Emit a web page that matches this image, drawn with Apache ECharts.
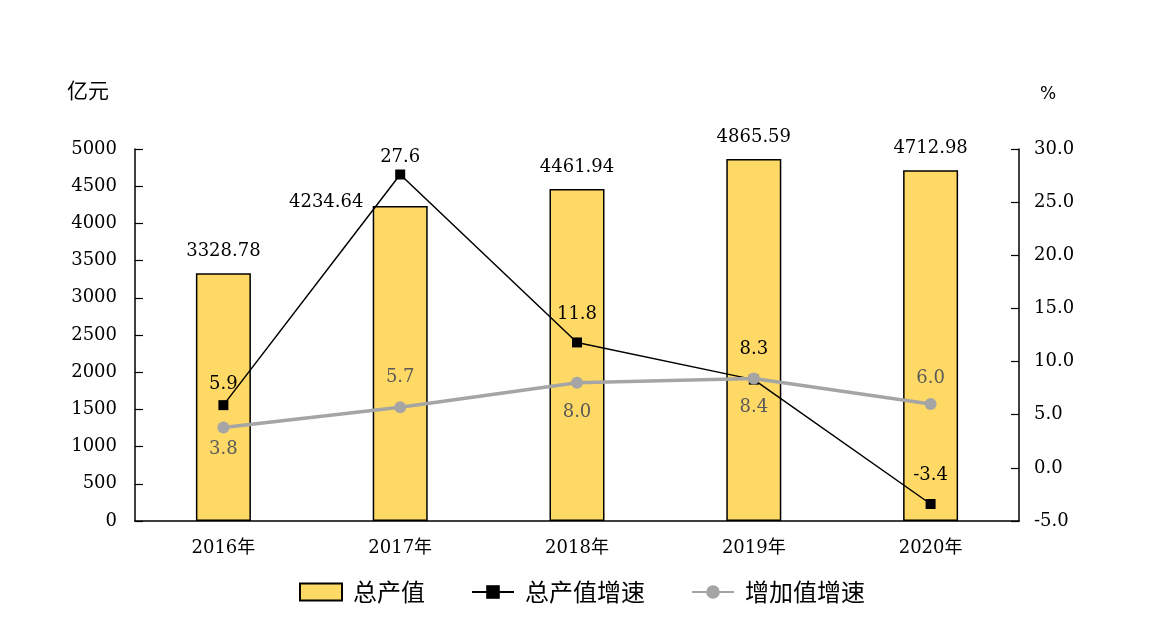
<!DOCTYPE html>
<html><head><meta charset="utf-8">
<script src="https://cdn.jsdelivr.net/npm/echarts@6/dist/echarts.min.js"></script>
<style>html,body{margin:0;padding:0;background:#fff}#c{width:1149px;height:621px}</style>
</head><body><div id="c"></div>
<script>
const categories = ['2016年', '2017年', '2018年', '2019年', '2020年'];
const outputValue = [3328.78, 4234.64, 4461.94, 4865.59, 4712.98];
const outputGrowth = [5.9, 27.6, 11.8, 8.3, -3.4];
const addedGrowth = [3.8, 5.7, 8.0, 8.4, 6.0];
const leftAxisRange = { min: 0, max: 5000, interval: 500 };
const rightAxisRange = { min: -5, max: 30, interval: 5 };
const seriesNames = ['总产值', '总产值增速', '增加值增速'];

// label layout (not data)
const outputGrowthLabelDist = [7, 3, 14, 16, 15];
const addedLabelPos = ['bottom', 'top', 'bottom', 'bottom', 'top'];
const addedLabelDist = [7, 15, 14, 14, 11];

const numFont = '"DejaVu Serif", "Noto Sans CJK SC", serif';
const cjkFont = '"Noto Sans CJK SC", sans-serif';
const numSize = 18;

const chart = echarts.init(document.getElementById('c'));

const option = {
  backgroundColor: '#fff',
  animation: false,
  grid: { left: 135, right: 130, top: 149, bottom: 100 },
  legend: {
    left: 294, top: 575,
    itemWidth: 42, itemHeight: 17, itemGap: 46,
    textStyle: { fontFamily: cjkFont, fontSize: 24, color: '#000', padding: [0, 0, 0, 6] },
    data: [
      { name: seriesNames[0], icon: 'rect' },
      { name: seriesNames[1] },
      { name: seriesNames[2] }
    ]
  },
  xAxis: {
    type: 'category',
    data: categories,
    axisLine: { lineStyle: { color: '#000', width: 1.5 } },
    axisTick: { inside: true, length: 9, alignWithLabel: false, lineStyle: { color: '#000', width: 1.2 } },
    axisLabel: { color: '#000', fontFamily: numFont, fontSize: numSize, margin: 18 }
  },
  yAxis: [
    {
      type: 'value', min: leftAxisRange.min, max: leftAxisRange.max, interval: leftAxisRange.interval,
      name: '亿元', nameLocation: 'end', nameGap: 48,
      nameTextStyle: { fontFamily: cjkFont, fontSize: 21, color: '#000', padding: [0, 94, 0, 0] },
      axisLine: { show: true, lineStyle: { color: '#000', width: 1.5 } },
      axisTick: { show: true, inside: true, length: 8, lineStyle: { color: '#000', width: 1.2 } },
      axisLabel: { color: '#000', fontFamily: numFont, fontSize: numSize, margin: 18, formatter: v => String(v) },
      splitLine: { show: false }
    },
    {
      type: 'value', min: rightAxisRange.min, max: rightAxisRange.max, interval: rightAxisRange.interval,
      name: '%', nameLocation: 'end', nameGap: 46,
      nameTextStyle: { fontFamily: '"DejaVu Sans", sans-serif', fontSize: 17, color: '#000', padding: [0, 0, 0, 58] },
      axisLine: { show: true, lineStyle: { color: '#000', width: 1.5 } },
      axisTick: { show: true, inside: true, length: 8, lineStyle: { color: '#000', width: 1.2 } },
      axisLabel: { color: '#000', fontFamily: numFont, fontSize: numSize, margin: 15, formatter: v => v.toFixed(1) },
      splitLine: { show: false }
    }
  ],
  series: [
    {
      name: seriesNames[0], type: 'bar', yAxisIndex: 0, barWidth: 55,
      itemStyle: { color: '#FFD966', borderColor: '#000', borderWidth: 1.5 },
      label: { show: true, position: 'top', distance: 13, color: '#000', fontFamily: numFont, fontSize: numSize, formatter: p => p.value.toFixed(2) },
      data: outputValue.map((v, i) => i === 1 ? { value: v, label: { offset: [-74, 18] } } : v),
      z: 1
    },
    {
      name: seriesNames[1], type: 'line', yAxisIndex: 1,
      symbol: 'rect', symbolSize: 10,
      lineStyle: { color: '#000', width: 1.5 },
      itemStyle: { color: '#000' },
      label: { show: true, position: 'top', color: '#000', fontFamily: numFont, fontSize: numSize, formatter: p => p.value.toFixed(1) },
      data: outputGrowth.map((v, i) => ({ value: v, label: { distance: outputGrowthLabelDist[i] } })),
      z: 3
    },
    {
      name: seriesNames[2], type: 'line', yAxisIndex: 1,
      symbol: 'circle', symbolSize: 12,
      lineStyle: { color: '#A5A5A5', width: 3.5 },
      itemStyle: { color: '#A5A5A5' },
      label: { show: true, color: '#595959', fontFamily: numFont, fontSize: numSize, formatter: p => p.value.toFixed(1) },
      data: addedGrowth.map((v, i) => ({ value: v, label: { position: addedLabelPos[i], distance: addedLabelDist[i] } })),
      z: 4
    }
  ]
};
chart.setOption(option);
</script>
</body></html>
